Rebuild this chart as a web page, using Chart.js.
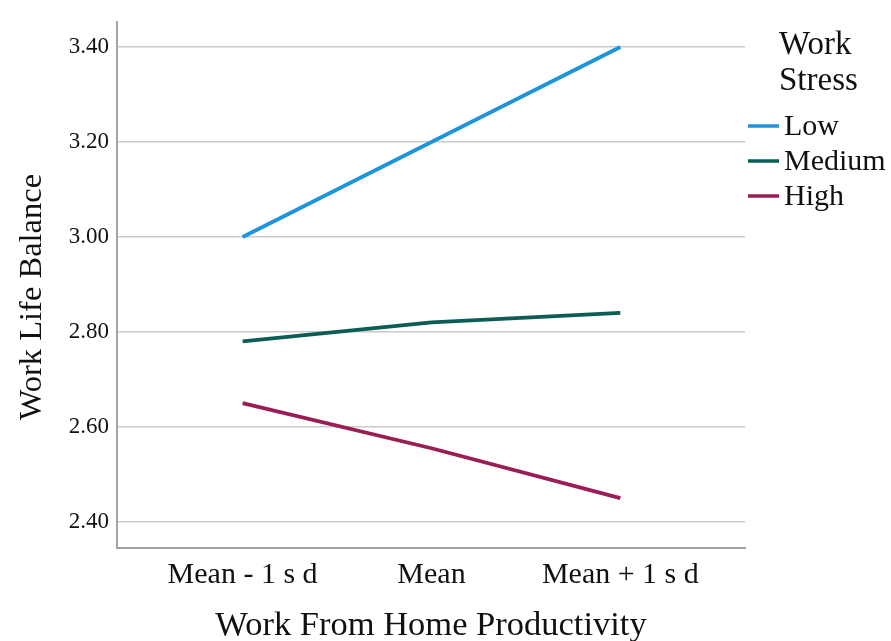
<!DOCTYPE html>
<html>
<head>
<meta charset="utf-8">
<script src="https://cdn.jsdelivr.net/npm/chart.js@4/dist/chart.umd.min.js"></script>
<style>
  html, body { margin: 0; padding: 0; background: #fff; }
  #wrap { width: 891px; height: 641px; }
</style>
</head>
<body>
<div id="wrap"><canvas id="chart" width="891" height="641"></canvas></div>
<script>
// --- Data ---
const xLabels = ["Mean - 1 s d", "Mean", "Mean + 1 s d"];
const yTicks = [2.40, 2.60, 2.80, 3.00, 3.20, 3.40];
const lowStress = [3.00, 3.20, 3.40];
const mediumStress = [2.78, 2.82, 2.84];
const highStress = [2.65, 2.555, 2.45];

const seriesNames = ["Low", "Medium", "High"];
const seriesColors = ["#1f94de", "#0c5d56", "#9a1d55"];
const legendTitle = ["Work", "Stress"];

const serif = "'Liberation Serif', 'Times New Roman', serif";

function toPoints(vals) {
  return vals.map((v, i) => ({ x: i, y: v }));
}

// --- Legend drawn at the right ---
const sideLegend = {
  id: "sideLegend",
  afterDraw(chart) {
    const ctx = chart.ctx;
    ctx.save();
    ctx.fillStyle = "#111";
    ctx.textAlign = "left";
    ctx.textBaseline = "middle";
    ctx.font = "33px " + serif;
    ctx.fillText(legendTitle[0], 779, 45);
    ctx.fillText(legendTitle[1], 779, 81);
    ctx.font = "30px " + serif;
    chart.data.datasets.forEach((ds, i) => {
      const y = 126 + i * 35;
      ctx.strokeStyle = ds.borderColor;
      ctx.lineWidth = 3.5;
      ctx.beginPath();
      ctx.moveTo(748, y);
      ctx.lineTo(779, y);
      ctx.stroke();
      ctx.fillStyle = "#111";
      ctx.fillText(ds.label, 784, y + 1);
    });
    ctx.restore();
  }
};

// --- Chart ---
const datasets = [lowStress, mediumStress, highStress].map((vals, i) => ({
  label: seriesNames[i],
  data: toPoints(vals),
  borderColor: seriesColors[i],
  backgroundColor: seriesColors[i],
  borderWidth: 3.8,
  pointRadius: 0,
  tension: 0
}));

new Chart(document.getElementById("chart"), {
  type: "line",
  data: { datasets },
  options: {
    responsive: false,
    animation: false,
    layout: { padding: { left: 0, top: 20, right: 146, bottom: 0 } },
    plugins: { legend: { display: false }, tooltip: { enabled: false } },
    scales: {
      x: {
        type: "linear",
        min: -0.665,
        max: 2.66,
        afterBuildTicks: s => { s.ticks = xLabels.map((_, i) => ({ value: i })); },
        afterFit: s => { s.height = 93; },
        ticks: {
          callback: v => xLabels[v],
          color: "#111",
          font: { family: serif, size: 30 },
          padding: 9,
          maxRotation: 0
        },
        grid: { display: false, drawTicks: false },
        border: { display: true, color: "#a3a3a3", width: 2 },
        title: {
          display: true,
          text: "Work From Home Productivity",
          color: "#111",
          font: { family: serif, size: 34.5, lineHeight: 0.85 },
          padding: 0
        }
      },
      y: {
        min: 2.345,
        max: 3.453,
        afterBuildTicks: s => { s.ticks = yTicks.map(v => ({ value: v })); },
        afterFit: s => { s.width = 117; },
        ticks: {
          callback: v => v.toFixed(2),
          color: "#111",
          font: { family: serif, size: 23 },
          padding: 8
        },
        grid: { color: "#cacaca", lineWidth: 1.5, drawTicks: false },
        border: { display: true, color: "#a3a3a3", width: 2 },
        title: {
          display: true,
          // trailing spaces nudge the rotated title down a little, like the original
          text: "Work Life Balance   ",
          color: "#111",
          font: { family: serif, size: 32.5 },
          padding: { top: 13, bottom: 0 }
        }
      }
    }
  },
  plugins: [sideLegend]
});
</script>
</body>
</html>
